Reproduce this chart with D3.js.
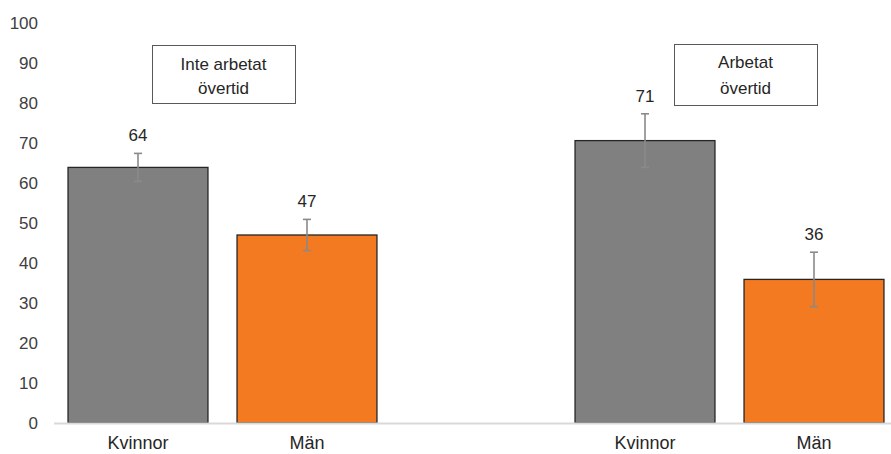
<!DOCTYPE html>
<html>
<head>
<meta charset="utf-8">
<script src="https://cdn.jsdelivr.net/npm/d3@7"></script>
<style>
  html, body { margin: 0; padding: 0; background: #fff; }
  svg { display: block; font-family: "Liberation Sans", Arial, sans-serif; }
</style>
</head>
<body>
<svg id="chart" width="891" height="454"></svg>
<script>
// ---- data ----
const categories = ["Kvinnor", "Män", "", "Kvinnor", "Män"];
const sexes = ["Kvinnor", "Män", null, "Kvinnor", "Män"];
const values = [63.9, 47.0, null, 70.6, 35.9];
const errors = [3.5, 3.9, null, 6.7, 6.8];
const valueLabels = ["64", "47", "", "71", "36"];
const yTicks = [0, 10, 20, 30, 40, 50, 60, 70, 80, 90, 100];
const groupLabels = [["Inte arbetat", "övertid"], ["Arbetat", "övertid"]];

// ---- layout ----
const svg = d3.select("#chart");
const colors = { "Kvinnor": "#7f807f", "Män": "#f47a22" };

const x = d3.scaleBand()
  .domain(d3.range(categories.length))
  .range([53.5, 898.5])
  .paddingInner(0.172)
  .paddingOuter(0.086);

const y = d3.scaleLinear().domain([0, 100]).range([423, 23]);

// y axis labels (no line)
const yAxis = d3.axisLeft(y).tickValues(yTicks).tickSize(0).tickPadding(0);
const yg = svg.append("g").attr("transform", "translate(38,0)").call(yAxis);
yg.select(".domain").remove();
yg.selectAll("text")
  .attr("font-size", 17)
  .attr("font-family", "Liberation Sans, Arial, sans-serif")
  .attr("fill", "#404040");

// bars
const idx = d3.range(categories.length).filter(i => values[i] != null);
svg.append("g").selectAll("rect").data(idx).join("rect")
  .attr("x", i => x(i))
  .attr("y", i => y(values[i]))
  .attr("width", x.bandwidth())
  .attr("height", i => y(0) - y(values[i]))
  .attr("fill", i => colors[sexes[i]])
  .attr("stroke", "#262626")
  .attr("stroke-width", 1.3);

// baseline
svg.append("line")
  .attr("x1", 54).attr("x2", 891)
  .attr("y1", y(0) + 0.5).attr("y2", y(0) + 0.5)
  .attr("stroke", "#d9d9d9").attr("stroke-width", 2);

// error bars
const eg = svg.append("g").attr("stroke", "#8a8a8a").attr("stroke-width", 1.6).attr("fill", "none");
idx.forEach(i => {
  const cx = x(i) + x.bandwidth() / 2;
  const top = y(values[i] + errors[i]);
  const bot = y(values[i] - errors[i]);
  eg.append("line").attr("x1", cx).attr("x2", cx).attr("y1", top).attr("y2", bot);
  eg.append("line").attr("x1", cx - 4).attr("x2", cx + 4).attr("y1", top).attr("y2", top);
  eg.append("line").attr("x1", cx - 4).attr("x2", cx + 4).attr("y1", bot).attr("y2", bot);
});

// value labels
svg.append("g").selectAll("text").data(idx).join("text")
  .attr("x", i => x(i) + x.bandwidth() / 2)
  .attr("y", i => y(values[i] + errors[i]) - 18)
  .attr("dy", "0.35em")
  .attr("text-anchor", "middle")
  .attr("font-size", 17)
  .attr("fill", "#262626")
  .text(i => valueLabels[i]);

// category labels
svg.append("g").selectAll("text").data(idx).join("text")
  .attr("x", i => x(i) + x.bandwidth() / 2)
  .attr("y", 443)
  .attr("dy", "0.35em")
  .attr("text-anchor", "middle")
  .attr("font-size", 18)
  .attr("fill", "#262626")
  .text(i => categories[i]);

// group label boxes
const g1c = (x(0) + x(1) + x.bandwidth()) / 2;
const g2c = (x(3) + x(4) + x.bandwidth()) / 2;
const boxes = [
  { cx: g1c + 1, y0: 45.5, h: 58, w: 143, lines: groupLabels[0], ly: [64, 88] },
  { cx: g2c + 16, y0: 44.5, h: 61, w: 143, lines: groupLabels[1], ly: [62, 88] }
];
boxes.forEach(b => {
  const g = svg.append("g");
  g.append("rect")
    .attr("x", Math.round(b.cx - b.w / 2) + 0.5).attr("y", b.y0)
    .attr("width", b.w).attr("height", b.h)
    .attr("fill", "#fff").attr("stroke", "#595959").attr("stroke-width", 1);
  b.lines.forEach((t, k) => {
    g.append("text")
      .attr("x", b.cx).attr("y", b.ly[k]).attr("dy", "0.35em")
      .attr("text-anchor", "middle").attr("font-size", 17).attr("fill", "#262626")
      .text(t);
  });
});
</script>
</body>
</html>
